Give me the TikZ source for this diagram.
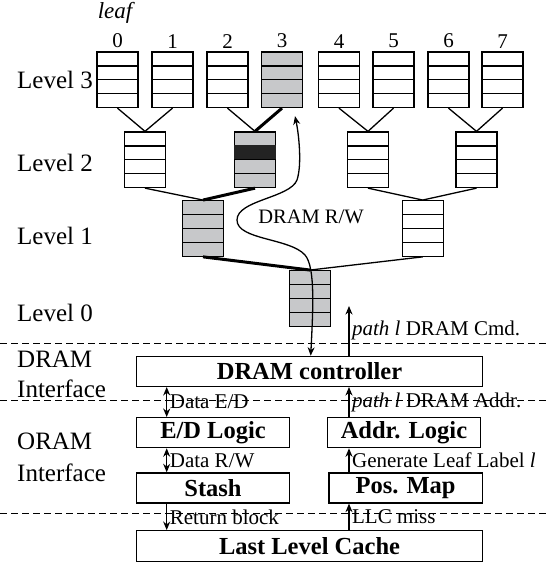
\documentclass[tikz,border=0pt]{standalone}
\usepackage{fontspec}
\setmainfont{Liberation Serif}
\usetikzlibrary{arrows.meta, positioning}
\definecolor{bucketgray}{RGB}{199,200,202}
\definecolor{rowblack}{RGB}{35,35,35}

\begin{document}
\begin{tikzpicture}[
        x=1pt, y=-1pt,
        bucket/.style={
            draw,
            line width=1.3pt,
            minimum width=41pt,
            minimum height=55.5pt,
            inner sep=0pt,
            path picture={
                \foreach \k in {1,2,3}
                    \draw[line width=1.3pt] ([yshift=-\k*13.875pt]path picture bounding box.north west) -- ([yshift=-\k*13.875pt]path picture bounding box.north east);
            }
        },
        unit_box/.style={
            draw,
            rectangle,
            line width=1.3pt,
            minimum height=30pt,
            inner sep=0pt,
            font=\fontsize{24.5}{28}\selectfont\bfseries
        },
        level_label/.style={anchor=west, inner sep=0pt, font=\fontsize{25}{30}\selectfont},
        side_label/.style={anchor=west, inner sep=0pt, align=left, font=\fontsize{25}{29.5}\selectfont},
        sig_label/.style={right, inner xsep=2.5pt, inner ysep=0pt, font=\fontsize{21}{24}\selectfont},
        edge/.style={line width=1.3pt},
        hot_edge/.style={line width=3pt},
        arrow_style/.style={
            -{Stealth[length=8.5pt, width=7pt]},
            line width=1.3pt
        },
        both_arrow/.style={
            {Stealth[length=8.5pt, width=7pt]}-{Stealth[length=8.5pt, width=7pt]},
            line width=1.3pt
        },
        sep_line/.style={dash pattern=on 6.5pt off 4.5pt, line width=1.3pt}
    ]
        \useasboundingbox (0,0) rectangle (549,563);

        % tree buckets
        \foreach \x/\f [count=\i from 0] in {117.5/white, 172.5/white, 227.5/white, 282/bucketgray, 339/white, 393.5/white, 448.5/white, 502.5/white} {
            \node[bucket, fill=\f] (b3-\i) at (\x,79.75) {};
            \node[inner sep=0pt, font=\fontsize{21}{24}\selectfont, above=3pt of b3-\i] (digit_\i) {\i};
        }
        \foreach \x/\f [count=\i from 0] in {145/white, 255/bucketgray, 368/white, 476.5/white}
            \node[bucket, fill=\f] (b2-\i) at (\x,159.75) {};
        \foreach \x/\f [count=\i from 0] in {203/bucketgray, 422.7/white}
            \node[bucket, fill=\f] (b1-\i) at (\x,228.45) {};
        \node[bucket, fill=bucketgray] (b0) at (310,298.45) {};
        \fill[rowblack] ([yshift=-13.875pt]b2-1.north west) rectangle ([yshift=-27.75pt]b2-1.north east);

        \node[inner sep=0pt, font=\fontsize{23}{28}\selectfont\itshape, above=10.5pt of digit_0, xshift=-2.5pt] (leaf_lbl) {leaf};

        \foreach \a/\b in {b3-0/b2-0, b3-1/b2-0, b3-2/b2-1, b3-4/b2-2, b3-5/b2-2, b3-6/b2-3, b3-7/b2-3, b2-0/b1-0, b2-2/b1-1, b2-3/b1-1, b1-1/b0}
            \draw[edge] (\a.south) -- (\b.north);
        \foreach \a/\b in {b3-3/b2-1, b2-1/b1-0, b1-0/b0}
            \draw[hot_edge] (\a.south) -- (\b.north);

        \node[level_label] (lvl3) at (17,80) {Level 3};
        \node[level_label] (lvl2) at (17,163) {Level 2};
        \node[level_label] (lvl1) at (17,236) {Level 1};
        \node[level_label] (lvl0) at (17,313) {Level 0};

        % interface layers
        \foreach \y in {343.3, 400.7, 513.3}
            \draw[sep_line] (0,\y) -- (549,\y);
        \node[side_label] (dram_if) at (17,374.5) {DRAM\\Interface};
        \node[side_label, font=\fontsize{25}{31.5}\selectfont] (oram_if) at (17,457.5) {ORAM\\Interface};

        \node[unit_box, minimum width=345.6pt] (dram_ctrl) at (309.5,371.35) {DRAM controller};
        \node[unit_box, minimum width=152.6pt, below right=30pt and 0pt of dram_ctrl.south west] (ed_logic) {E/D Logic};
        \node[unit_box, minimum width=152.6pt, below=24pt of ed_logic] (stash) {Stash};
        \node[unit_box, minimum width=153.4pt, below left=30pt and 1.6pt of dram_ctrl.south east] (addr_logic) {Addr. Logic};
        \node[unit_box, minimum width=153.4pt, below=24pt of addr_logic, xshift=1.6pt] (pos_map) {Pos. Map};
        \node[unit_box, minimum width=345.6pt, minimum height=31pt] (llc) at (309.5,546.2) {Last Level Cache};

        \coordinate (left_col) at (166.7,0);
        \coordinate (right_col) at (349,0);
        \coordinate (cmd_tip) at (349,306);

        \draw[both_arrow] (dram_ctrl.south -| left_col) -- node[sig_label] {Data E/D} (ed_logic.north -| left_col);
        \draw[both_arrow] (ed_logic.south -| left_col) -- node[sig_label] {Data R/W} (stash.north -| left_col);
        \draw[arrow_style] (stash.south -| left_col) -- node[sig_label] {Return block} (llc.north -| left_col);
        \draw[arrow_style] (addr_logic.north -| right_col) -- node[sig_label] {\textit{path l} DRAM Addr.} (dram_ctrl.south -| right_col);
        \draw[arrow_style] (pos_map.north -| right_col) -- node[sig_label] {Generate Leaf Label \textit{l}} (addr_logic.south -| right_col);
        \draw[arrow_style] (llc.north -| right_col) -- node[sig_label] {LLC miss} (pos_map.south -| right_col);
        \draw[arrow_style] (dram_ctrl.north -| right_col) -- node[sig_label] {\textit{path l} DRAM Cmd.} (cmd_tip);

        % DRAM read/write path
        \draw[both_arrow] ([xshift=1.2pt]dram_ctrl.north) .. controls (313,310) and (315.5,267) .. (305,255)
            .. controls (290,238) and (237,240) .. (237,220)
            .. controls (237,200) and (290,198) .. (297,180)
            .. controls (302,165) and (299,135) .. ([xshift=13pt, yshift=-8pt]b3-3.south);
        \node[inner sep=0pt, font=\fontsize{20.5}{24}\selectfont] (rw_lbl) at (311,216.7) {DRAM R/W};
    \end{tikzpicture}
\end{document}
